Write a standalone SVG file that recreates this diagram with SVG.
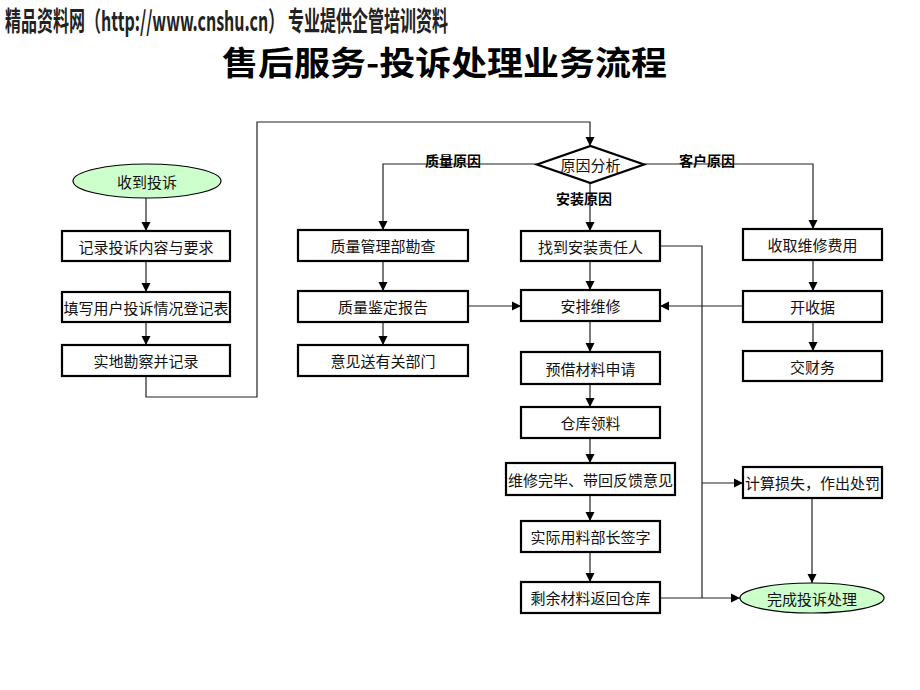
<svg xmlns="http://www.w3.org/2000/svg" width="920" height="690" viewBox="0 0 920 690">
<defs>
<marker id="ar" markerUnits="userSpaceOnUse" markerWidth="10" markerHeight="10" refX="9" refY="5" orient="auto">
<path d="M0,0.5 L9,5 L0,9.5 z" fill="#000"/>
</marker>
<style>
.box{fill:#fff;stroke:#000;stroke-width:2.2}
.ell{fill:#ccffcc;stroke:#000;stroke-width:1.2}
.dia{fill:#fff;stroke:#000;stroke-width:2.2}
.t{font-family:"Noto Sans CJK SC","Noto Sans CJK JP",sans-serif;font-size:15px;fill:#111;text-anchor:middle;dominant-baseline:central}
.lb{font-family:"Noto Sans CJK SC","Noto Sans CJK JP",sans-serif;font-size:14px;font-weight:bold;fill:#000;text-anchor:middle;dominant-baseline:central}
.c{fill:none;stroke:#222;stroke-width:1.2}
.ca{fill:none;stroke:#222;stroke-width:1.2;marker-end:url(#ar)}
</style>
</defs>
<rect width="920" height="690" fill="#fff"/>
<text x="5" y="31" font-family="'Noto Sans CJK SC',sans-serif" font-size="27" font-weight="bold" fill="#222" textLength="443" lengthAdjust="spacingAndGlyphs">精品资料网（http://www.cnshu.cn） 专业提供企管培训资料</text>
<text x="222" y="75" font-family="'Noto Sans CJK SC',sans-serif" font-size="33" font-weight="bold" fill="#000" textLength="445" lengthAdjust="spacingAndGlyphs">售后服务-投诉处理业务流程</text>

<g id="connectors">
<path class="ca" d="M146,198 V231"/>
<path class="ca" d="M146,261 V292"/>
<path class="ca" d="M146,322 V345"/>
<path class="ca" d="M146,376 V397 H257 V122 H590 V146"/>
<path class="ca" d="M537,164 H383 V230"/>
<path class="ca" d="M644,164 H813 V229"/>
<path class="ca" d="M590,183 V231"/>
<path class="ca" d="M383,261 V291"/>
<path class="ca" d="M383,322 V345"/>
<path class="ca" d="M468,306 H521"/>
<path class="ca" d="M590,261 V290"/>
<path class="ca" d="M590,321 V352"/>
<path class="ca" d="M590,384 V407"/>
<path class="ca" d="M590,438 V463"/>
<path class="ca" d="M590,495 V521"/>
<path class="ca" d="M590,552 V582"/>
<path class="c" d="M660,246 H702 V598"/>
<path class="ca" d="M702,483 H743"/>
<path class="ca" d="M660,598 H740"/>
<path class="ca" d="M813,260 V291"/>
<path class="ca" d="M743,306 H660"/>
<path class="ca" d="M813,322 V351"/>
<path class="ca" d="M812,498 V583"/>
</g>

<g id="lbl-quality"><text class="lb" x="453" y="160">质量原因</text></g>
<g id="lbl-customer"><text class="lb" x="707" y="160">客户原因</text></g>
<g id="lbl-install"><text class="lb" x="584" y="198">安装原因</text></g>

<g id="n-receive"><ellipse class="ell" cx="147" cy="181" rx="74" ry="17"/><text class="t" x="147" y="181">收到投诉</text></g>
<g id="n-record"><rect class="box" x="62" y="231" width="168" height="30"/><text class="t" x="146" y="246">记录投诉内容与要求</text></g>
<g id="n-fill"><rect class="box" x="62" y="292" width="168" height="30"/><text class="t" x="146" y="307">填写用户投诉情况登记表</text></g>
<g id="n-survey"><rect class="box" x="62" y="345" width="168" height="31"/><text class="t" x="146" y="360.5">实地勘察并记录</text></g>

<g id="n-analysis"><polygon class="dia" points="537,164.5 590.5,146 644,164.5 590.5,183"/><text class="t" x="590.5" y="164.5">原因分析</text></g>

<g id="n-qcheck"><rect class="box" x="298" y="230" width="170" height="31"/><text class="t" x="383" y="245.5">质量管理部勘查</text></g>
<g id="n-qreport"><rect class="box" x="298" y="291" width="170" height="31"/><text class="t" x="383" y="306.5">质量鉴定报告</text></g>
<g id="n-qsend"><rect class="box" x="298" y="345" width="170" height="31"/><text class="t" x="383" y="360.5">意见送有关部门</text></g>

<g id="n-findperson"><rect class="box" x="521" y="231" width="139" height="30"/><text class="t" x="590.5" y="246">找到安装责任人</text></g>
<g id="n-arrange"><rect class="box" x="521" y="290" width="139" height="31"/><text class="t" x="590.5" y="305.5">安排维修</text></g>
<g id="n-borrow"><rect class="box" x="521" y="352" width="139" height="32"/><text class="t" x="590.5" y="368">预借材料申请</text></g>
<g id="n-pick"><rect class="box" x="521" y="407" width="139" height="31"/><text class="t" x="590.5" y="422.5">仓库领料</text></g>
<g id="n-done"><rect class="box" x="506" y="463" width="169" height="32"/><text class="t" x="590.5" y="479">维修完毕、带回反馈意见</text></g>
<g id="n-sign"><rect class="box" x="521" y="521" width="139" height="31"/><text class="t" x="590.5" y="536.5">实际用料部长签字</text></g>
<g id="n-return"><rect class="box" x="521" y="582" width="139" height="31"/><text class="t" x="590.5" y="597.5">剩余材料返回仓库</text></g>

<g id="n-fee"><rect class="box" x="743" y="229" width="139" height="31"/><text class="t" x="812.5" y="244.5">收取维修费用</text></g>
<g id="n-receipt"><rect class="box" x="743" y="291" width="139" height="31"/><text class="t" x="812.5" y="306.5">开收据</text></g>
<g id="n-finance"><rect class="box" x="743" y="351" width="139" height="30"/><text class="t" x="812.5" y="366">交财务</text></g>
<g id="n-loss"><rect class="box" x="743" y="467" width="139" height="31"/><text class="t" x="812.5" y="482.5">计算损失，作出处罚</text></g>
<g id="n-finish"><ellipse class="ell" cx="812" cy="598" rx="72" ry="15"/><text class="t" x="812" y="598">完成投诉处理</text></g>
</svg>
